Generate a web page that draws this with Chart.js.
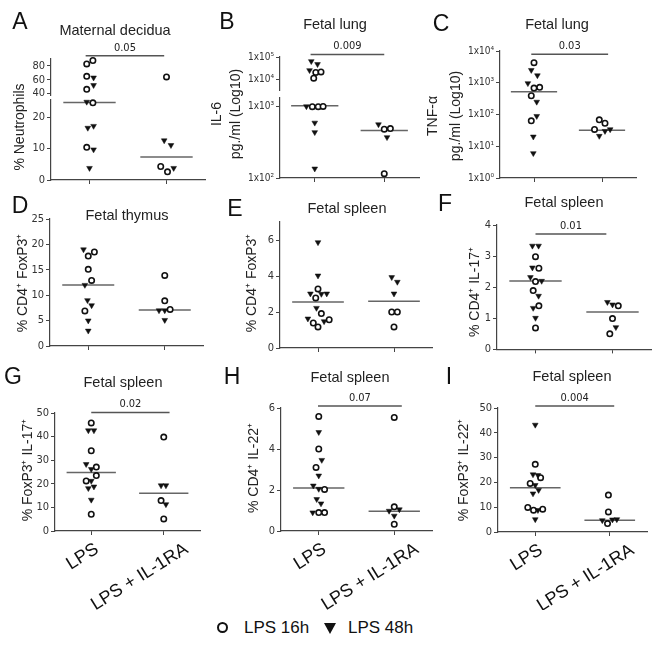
<!DOCTYPE html>
<html>
<head>
<meta charset="utf-8">
<script src="https://cdn.jsdelivr.net/npm/chart.js@4.4.1/dist/chart.umd.min.js"></script>
<style>
  html, body { margin: 0; padding: 0; background: #fff; }
  #fig { position: relative; width: 666px; height: 648px; overflow: hidden;
         font-family: "Liberation Sans", Arial, sans-serif; color: #111; }
  #fig canvas { position: absolute; pointer-events: none; }
  .lg { position: absolute; }
  .open { width: 7px; height: 7px; border: 2.5px solid #111; border-radius: 50%; }
  .filled { width: 0; height: 0; border-left: 6px solid transparent; border-right: 6px solid transparent; border-top: 11px solid #111; }
  .lgtext { font-size: 17px; line-height: 20px; }
</style>
</head>
<body>
<div id="fig">
  <div class="lg open" style="left:217px;top:622px"></div>
  <div class="lg lgtext" style="left:244px;top:618px">LPS 16h</div>
  <div class="lg filled" style="left:324px;top:623px"></div>
  <div class="lg lgtext" style="left:348px;top:618px">LPS 48h</div>
</div>
<script>
// groupes et textes
const groups = ['LPS', 'LPS + IL-1RA'];
const letters = ['A', 'B', 'C', 'D', 'E', 'F', 'G', 'H', 'I'];
const titles = ['Maternal decidua', 'Fetal lung', 'Fetal lung', 'Fetal thymus', 'Fetal spleen',
                'Fetal spleen', 'Fetal spleen', 'Fetal spleen', 'Fetal spleen'];
const yTitles = [['% Neutrophils'], ['IL-6', 'pg./ml (Log10)'], ['TNF-\u03b1', 'pg./ml (Log10)'],
                 ['% CD4\u207a FoxP3\u207a'], ['% CD4\u207a FoxP3\u207a'], ['% CD4\u207a IL-17\u207a'],
                 ['% FoxP3\u207a IL-17\u207a'], ['% CD4\u207a IL-22\u207a'], ['% FoxP3\u207a IL-22\u207a']];
const pValues = ['0.05', '0.009', '0.03', null, null, '0.01', '0.02', '0.07', '0.004'];

// ticks
const aTicksLow = [0, 10, 20], aTicksHigh = [40, 60, 80];
const bTicksLow = [100, 1000], bTicksHigh = [10000, 100000];
const cTicks = [1, 10, 100, 1000, 10000];
const dTicks = [0, 5, 10, 15, 20, 25];
const eTicks = [0, 2, 4, 6];
const fTicks = [0, 1, 2, 3, 4];
const gTicks = [0, 10, 20, 30, 40, 50];
const hTicks = [0, 2, 4, 6];
const iTicks = [0, 10, 20, 30, 40, 50];

// valeurs : [LPS, LPS + IL-1RA]; "open" = LPS 16h, "filled" = LPS 48h
const aOpen = [[88, 83, 65, 46, 24.6, 10.4], [64, 4.3, 2.6]];
const aOpenDx = [[0.044, -0.036, -0.036, -0.036, 0.044, -0.036], [0, -0.075, 0.013]];
const aFilled = [[63, 52, 24.9, 17.2, 16.6, 9.7, 3.8], [12.6, 11.1, 3.8]];
const aFilledDx = [[0.053, 0.053, -0.036, 0.053, -0.022, 0.053, 0], [-0.03, 0.058, 0.093]];
const aMedian = [24.7, 7.3];

const bOpen = [[20000, 21000, 11000, 990, 990, 1000], [480, 490, 115]];
const bOpenDx = [[0.015, 0.09, -0.015, -0.035, 0.05, 0.12], [0, 0.088, 0]];
const bFilled = [[64000, 47000, 25000, 1000, 590, 435, 135], [560, 370]];
const bFilledDx = [[-0.05, 0.04, -0.075, -0.12, 0, 0, 0], [-0.083, 0.04]];
const bMedian = [1020, 460];

const cOpen = [[4300, 680, 720, 390, 63], [68, 53, 34]];
const cOpenDx = [[0, 0, 0.083, -0.04, -0.04], [-0.04, 0.044, -0.11]];
const cFilled = [[2500, 1700, 960, 250, 89, 20, 6], [30, 21, 34]];
const cFilledDx = [[-0.04, 0.05, -0.09, 0.04, 0.04, -0.01, -0.01], [0.044, -0.04, 0.12]];
const cMedian = [520, 32];

const dOpen = [[18.5, 17.7, 15.1, 12.9, 6.9], [13.9, 8.9, 7.2]];
const dOpenDx = [[0.08, 0, 0, 0.044, -0.044], [0, 0, 0.07]];
const dFilled = [[19.0, 12.0, 9.0, 8.0, 5.0, 3.0], [7.0, 7.0, 5.1]];
const dFilledDx = [[-0.062, -0.044, -0.01, 0.044, 0, 0], [-0.075, 0, 0]];
const dMedian = [12.0, 7.1];

const eOpen = [[3.28, 2.78, 1.91, 1.57, 1.39, 1.17], [2.0, 2.0, 1.17]];
const eOpenDx = [[0, -0.03, 0.044, 0.147, -0.062, 0], [-0.03, 0.044, 0]];
const eFilled = [[5.87, 4.02, 3.02, 3.0, 3.02, 2.22, 1.63, 1.48], [3.93, 3.67, 3.02]];
const eFilledDx = [[0, 0, -0.1, 0.044, 0.115, -0.02, -0.133, 0.08], [-0.03, 0.044, 0]];
const eMedian = [2.56, 2.6];

const fOpen = [[2.98, 2.61, 2.18, 1.89, 1.40, 0.69], [1.40, 0.99, 0.5]];
const fOpenDx = [[0, 0.044, 0, -0.03, 0.044, 0], [0.075, 0, -0.035]];
const fFilled = [[3.33, 3.33, 2.63, 2.32, 2.2, 1.72, 1.33, 1.01], [1.52, 1.44, 0.71]];
const fFilledDx = [[-0.04, 0.04, -0.04, -0.066, 0.08, 0.04, -0.03, 0], [-0.066, 0, 0.044]];
const fMedian = [2.2, 1.2];

const gOpen = [[45.8, 34.0, 27.1, 23.5, 21.2, 7.1], [39.8, 12.9, 5.1]];
const gOpenDx = [[0, 0, 0.07, 0.07, -0.07, 0], [0, -0.037, 0]];
const gFilled = [[42.6, 42.6, 28.3, 26.2, 21.2, 18.8, 18.1, 13.2], [19.3, 19.3, 11.3]];
const gFilledDx = [[-0.04, 0.037, -0.07, 0, 0, 0.037, -0.04, 0], [-0.037, 0.03, 0.03]];
const gMedian = [24.8, 16.0];

const hOpen = [[5.59, 4.0, 3.1, 2.03, 0.9, 0.9], [5.54, 1.18, 0.33]];
const hOpenDx = [[0, 0, -0.036, 0.077, 0, 0.077], [0, 0, 0]];
const hFilled = [[4.82, 3.46, 2.70, 2.21, 2.05, 1.55, 1.34, 0.9], [1.05, 0.98, 0.74]];
const hFilledDx = [[0, 0.04, 0, -0.072, 0, -0.027, 0.03, -0.08], [0.068, -0.068, 0]];
const hMedian = [2.1, 0.96];

const iOpen = [[27.3, 21.9, 19.6, 9.9, 9.2, 8.8], [14.9, 8.1, 3.4]];
const iOpenDx = [[0, 0.072, -0.068, -0.1, 0.1, -0.023], [-0.018, -0.018, -0.03]];
const iFilled = [[43.2, 23.2, 22.9, 18.9, 16.9, 15.5, 8.8, 5.1], [4.7, 5.0, 5.1]];
const iFilledDx = [[0, -0.03, 0.036, 0, 0.045, -0.03, 0.036, 0], [-0.1, 0.036, 0.095]];
const iMedian = [17.8, 4.7];

// mise en page (pixels de la page)
const MAIN = '"Liberation Sans", Arial, sans-serif';
const NARROW = '"Liberation Sans Narrow", "DejaVu Sans Condensed", "Arial Narrow", sans-serif';
const AXIS = '#444';
const YW = 36, XH = 6;
const cols = [0, 222, 444], rows = [0, 193, 358], rowH = [193, 165, 252];
const SUP = ['\u2070', '\u00b9', '\u00b2', '\u00b3', '\u2074', '\u2075'];

const panels = [
  { open: aOpen, openDx: aOpenDx, filled: aFilled, filledDx: aFilledDx, median: aMedian,
    box: [51, 59, 205, 180],
    broken: { type: 'linear', low: [0, 25.5], high: [37.7, 90.2], lowTicks: aTicksLow, highTicks: aTicksHigh, weights: [80, 5, 36], split: 30 },
    letterAt: [20, 23], titleAt: [115, 31], yTitleX: [20], yTitleY: 127, bar: { x: [0.95, 1.97], y: 94.8 } },
  { open: bOpen, openDx: bOpenDx, filled: bFilled, filledDx: bFilledDx, median: bMedian,
    box: [280, 57, 419, 178],
    broken: { type: 'logarithmic', low: [100, 1310], high: [3200, 100000], lowTicks: bTicksLow, highTicks: bTicksHigh, weights: [80, 8, 33], split: 2000 },
    letterAt: [227, 23], titleAt: [335, 25], yTitleX: [217, 236], yTitleY: 114, bar: { x: [0.94, 2.0], y: 130000 } },
  { open: cOpen, openDx: cOpenDx, filled: cFilled, filledDx: cFilledDx, median: cMedian,
    box: [500, 51, 636, 178], type: 'logarithmic', range: [1, 10000], ticks: cTicks,
    letterAt: [441, 25], titleAt: [557, 25], yTitleX: [433, 456], yTitleY: 116, bar: { x: [0.96, 2.09], y: 7900 } },
  { open: dOpen, openDx: dOpenDx, filled: dFilled, filledDx: dFilledDx, median: dMedian,
    box: [50, 219, 203, 346], range: [0, 25], ticks: dTicks,
    letterAt: [20, 207], titleAt: [127, 216], yTitleX: [23], yTitleY: 283 },
  { open: eOpen, openDx: eOpenDx, filled: eFilled, filledDx: eFilledDx, median: eMedian,
    box: [280, 222, 432, 348], range: [0, 7], ticks: eTicks,
    letterAt: [235, 210], titleAt: [347, 209], yTitleX: [252], yTitleY: 283 },
  { open: fOpen, openDx: fOpenDx, filled: fFilled, filledDx: fFilledDx, median: fMedian,
    box: [497, 225, 651, 350], range: [0, 4], ticks: fTicks,
    letterAt: [445, 205], titleAt: [564, 203], yTitleX: [475], yTitleY: 292, bar: { x: [1.0, 1.92], y: 3.71 } },
  { open: gOpen, openDx: gOpenDx, filled: gFilled, filledDx: gFilledDx, median: gMedian,
    box: [55, 413, 200, 531], range: [0, 50], ticks: gTicks,
    letterAt: [13, 378], titleAt: [123, 383], yTitleX: [28], yTitleY: 470, bar: { x: [1.0, 2.08], y: 50.2 }, xLabels: true },
  { open: hOpen, openDx: hOpenDx, filled: hFilled, filledDx: hFilledDx, median: hMedian,
    box: [281, 408, 432, 531], range: [0, 6], ticks: hTicks,
    letterAt: [232, 378], titleAt: [350, 378], yTitleX: [254], yTitleY: 468, bar: { x: [0.99, 2.1], y: 6.1 }, xLabels: true },
  { open: iOpen, openDx: iOpenDx, filled: iFilled, filledDx: iFilledDx, median: iMedian,
    box: [498, 408, 647, 532], range: [0, 50], ticks: iTicks,
    letterAt: [449, 378], titleAt: [572, 377], yTitleX: [464], yTitleY: 470, bar: { x: [1.0, 2.06], y: 50.8 }, xLabels: true }
];
const xLabelShift = [1, 18];

function tickLabel(type) {
  if (type === 'logarithmic') {
    return v => '1x10' + SUP[Math.round(Math.log10(v))];
  }
  return v => String(v);
}

function yScale(type, range, ticks, extra) {
  return Object.assign({
    type: type,
    position: 'left',
    min: range[0],
    max: range[1],
    afterBuildTicks: s => { s.ticks = ticks.map(v => ({ value: v })); },
    afterFit: s => { s.width = YW; },
    grid: { drawOnChartArea: false, color: AXIS, tickLength: 4 },
    border: { color: AXIS, width: 1.2 },
    ticks: { color: '#333', padding: 2, autoSkip: false,
             font: { family: NARROW, size: type === 'logarithmic' ? 10 : 11 },
             callback: tickLabel(type) }
  }, extra);
}

const fig = document.getElementById('fig');

function build(i) {
  const p = panels[i];
  const col = i % 3, row = Math.floor(i / 3);
  const cl = Math.max(0, cols[col] - 30), cr = Math.min(666, cols[col] + 222);
  const ct = rows[row], ch = rowH[row];
  const [L, T, R, B] = p.box;

  const canvas = document.createElement('canvas');
  canvas.width = cr - cl;
  canvas.height = ch;
  canvas.style.left = cl + 'px';
  canvas.style.top = ct + 'px';
  fig.appendChild(canvas);

  const scales = {
    x: {
      type: 'linear', min: 0.5, max: 2.5,
      afterBuildTicks: s => { s.ticks = [{ value: 1 }, { value: 2 }]; },
      afterFit: s => { s.height = XH; },
      grid: { drawOnChartArea: false, color: AXIS, tickLength: 4 },
      border: { color: AXIS, width: 1.2 },
      ticks: { display: false }
    }
  };
  let axisFor;
  if (p.broken) {
    const b = p.broken;
    // le dernier axe de la pile est placé en haut
    scales.y = yScale(b.type, b.low, b.lowTicks, { stack: 'axe', stackWeight: b.weights[0] });
    scales.yGap = {
      type: 'linear', position: 'left', min: 0, max: 1, stack: 'axe', stackWeight: b.weights[1],
      afterFit: s => { s.width = YW; },
      grid: { display: false, drawTicks: false }, border: { display: false }, ticks: { display: false }
    };
    scales.y2 = yScale(b.type, b.high, b.highTicks, { stack: 'axe', stackWeight: b.weights[2] });
    axisFor = v => (v > b.split ? 'y2' : 'y');
  } else {
    scales.y = yScale(p.type || 'linear', p.range, p.ticks, {});
    axisFor = () => 'y';
  }

  const datasets = [];
  function addPoints(vals, dxs, style) {
    const byAxis = {};
    vals.forEach((arr, g) => arr.forEach((v, k) => {
      const id = axisFor(v);
      (byAxis[id] = byAxis[id] || []).push({ x: g + 1 + dxs[g][k], y: v });
    }));
    Object.keys(byAxis).forEach(id => {
      datasets.push(Object.assign({ data: byAxis[id], yAxisID: id, clip: false }, style));
    });
  }
  addPoints(p.filled, p.filledDx, {
    pointStyle: 'triangle', rotation: 180, pointRadius: 3.3,
    backgroundColor: '#111', borderColor: '#111', borderWidth: 0.5
  });
  addPoints(p.open, p.openDx, {
    pointStyle: 'circle', pointRadius: 2.7,
    backgroundColor: '#fff', borderColor: '#111', borderWidth: 1.6
  });
  // médianes (dessinées sous les points)
  p.median.forEach((m, g) => {
    datasets.push({
      data: [{ x: g + 1 - 0.34, y: m }, { x: g + 1 + 0.34, y: m }],
      yAxisID: axisFor(m), showLine: true, pointRadius: 0,
      borderColor: '#666', borderWidth: 1.5, clip: false
    });
  });

  const deco = {
    id: 'deco',
    afterDraw(chart) {
      const ctx = chart.ctx;
      const xs = chart.scales.x;
      ctx.save();
      // barre de significativité
      if (pValues[i]) {
        const ys = chart.scales[axisFor(p.bar.y)];
        const y = ys.getPixelForValue(p.bar.y);
        const x0 = xs.getPixelForValue(p.bar.x[0]);
        const x1 = xs.getPixelForValue(p.bar.x[1]);
        ctx.strokeStyle = '#555';
        ctx.lineWidth = 1.5;
        ctx.beginPath();
        ctx.moveTo(x0, y);
        ctx.lineTo(x1, y);
        ctx.stroke();
        ctx.fillStyle = '#222';
        ctx.font = '11px ' + NARROW;
        ctx.textAlign = 'center';
        ctx.textBaseline = 'middle';
        ctx.fillText(pValues[i], (x0 + x1) / 2, y - 8);
      }
      // étiquettes x inclinées
      if (p.xLabels) {
        ctx.fillStyle = '#111';
        ctx.font = '18px ' + MAIN;
        ctx.textAlign = 'right';
        ctx.textBaseline = 'top';
        groups.forEach((g, k) => {
          ctx.save();
          ctx.translate(xs.getPixelForValue(k + 1) + xLabelShift[k], chart.chartArea.bottom + 9);
          ctx.rotate(-32 * Math.PI / 180);
          ctx.fillText(g, 0, 0);
          ctx.restore();
        });
      }
      // textes en coordonnées de page
      ctx.translate(-cl, -ct);
      ctx.textAlign = 'center';
      ctx.textBaseline = 'middle';
      ctx.fillStyle = '#111';
      ctx.font = '23px ' + MAIN;
      ctx.fillText(letters[i], p.letterAt[0], p.letterAt[1]);
      ctx.fillStyle = '#222';
      ctx.font = '14.5px ' + MAIN;
      ctx.fillText(titles[i], p.titleAt[0], p.titleAt[1]);
      ctx.font = '14px ' + MAIN;
      yTitles[i].forEach((t, k) => {
        ctx.save();
        ctx.translate(p.yTitleX[k], p.yTitleY);
        ctx.rotate(-Math.PI / 2);
        ctx.fillText(t, 0, 0);
        ctx.restore();
      });
      ctx.restore();
    }
  };

  new Chart(canvas, {
    type: 'scatter',
    data: { datasets: datasets },
    options: {
      responsive: false,
      animation: false,
      events: [],
      layout: {
        autoPadding: false,
        padding: { left: L - cl - YW, right: cr - R, top: T - ct, bottom: ct + ch - B - XH }
      },
      scales: scales,
      plugins: { legend: { display: false }, tooltip: { enabled: false } }
    },
    plugins: [deco]
  });
}

panels.forEach((p, i) => build(i));
</script>
</body>
</html>
